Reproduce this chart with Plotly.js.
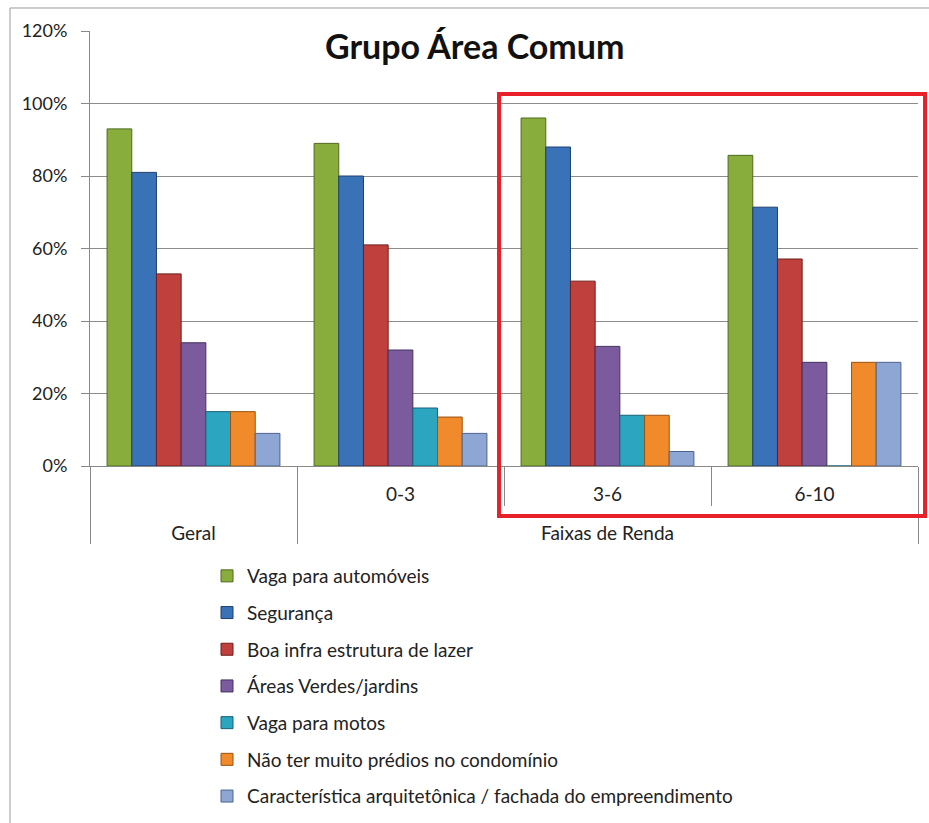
<!DOCTYPE html>
<html>
<head>
<meta charset="utf-8">
<script src="https://cdn.plot.ly/plotly-3.0.1.min.js"></script>
<style>html,body{margin:0;padding:0;background:#fff;}#chart{width:929px;height:823px;}</style>
</head>
<body>
<div id="chart"></div>
<script>
// Categories (two-level axis)
var groupLabels = ["Geral", "Faixas de Renda", "Faixas de Renda", "Faixas de Renda"];
var subLabels = [" ", "0-3", "3-6", "6-10"];

// Series names
var seriesNames = [
  "Vaga para automóveis",
  "Segurança",
  "Boa infra estrutura de lazer",
  "Áreas Verdes/jardins",
  "Vaga para motos",
  "Não ter muito prédios no condomínio",
  "Característica arquitetônica / fachada do empreendimento"
];

// Series values (fractions), order: Geral, 0-3, 3-6, 6-10
var vagaAutomoveis = [0.93, 0.89, 0.96, 0.857];
var seguranca = [0.81, 0.80, 0.88, 0.714];
var infraLazer = [0.53, 0.61, 0.51, 0.571];
var areasVerdes = [0.34, 0.32, 0.33, 0.286];
var vagaMotos = [0.15, 0.16, 0.14, 0];
var poucosPredios = [0.15, 0.135, 0.14, 0.286];
var arquitetura = [0.09, 0.09, 0.04, 0.286];

var seriesValues = [vagaAutomoveis, seguranca, infraLazer, areasVerdes, vagaMotos, poucosPredios, arquitetura];
var seriesColors = ["#88AD3C", "#3A72B8", "#C0403D", "#7C5A9E", "#2BA5C0", "#F08A2A", "#8DA6D4"];
var seriesEdges = ["#4E6A1E", "#1F3F6E", "#6E1E1C", "#44305E", "#17617A", "#9A5210", "#4E6490"];

var yTicks = [0, 0.2, 0.4, 0.6, 0.8, 1.0, 1.2];

// group labels are pushed one line lower so they sit well below the sub-labels
var groupAxisLabels = groupLabels.map(function (g) { return "<br>" + g; });

var traces = seriesNames.map(function (name, i) {
  return {
    type: "bar",
    name: name,
    x: [groupAxisLabels, subLabels],
    y: seriesValues[i],
    legendgroup: "g" + i,
    marker: {color: seriesColors[i], line: {color: seriesEdges[i], width: 1}},
    hoverinfo: "y+name"
  };
});

var font = "Lato, 'Open Sans', 'Liberation Sans', sans-serif";

var layout = {
  width: 929,
  height: 823,
  paper_bgcolor: "#fff",
  plot_bgcolor: "#fff",
  margin: {l: 90, r: 11, t: 31, b: 357, autoexpand: false},
  barmode: "group",
  bargap: 0.165,
  bargroupgap: 0,
  font: {family: font, size: 14, color: "#222"},
  title: {
    text: "<b>Grupo Área Comum</b>",
    font: {family: font, size: 34, color: "#111"},
    x: 0.511, xref: "container", xanchor: "center",
    y: 1 - 47 / 823, yref: "container", yanchor: "middle"
  },
  xaxis: {
    type: "multicategory",
    automargin: false,
    showgrid: false,
    showline: true,
    linecolor: "#888",
    linewidth: 1,
    ticks: "outside",
    ticklen: 39,
    tickcolor: "#888",
    showdividers: true,
    dividercolor: "#888",
    dividerwidth: 1,
    ticklabelstandoff: 11,
    tickfont: {family: font, size: 19, color: "#222"}
  },
  yaxis: {
    automargin: false,
    range: [0, 1.2],
    tickvals: yTicks,
    tickformat: ".0%",
    showgrid: true,
    gridcolor: "#8c8c8c",
    gridwidth: 1,
    showline: true,
    linecolor: "#888",
    ticks: "outside",
    ticklen: 8,
    tickcolor: "#888",
    zeroline: false,
    tickfont: {family: font, size: 18, color: "#222"},
    ticklabelstandoff: 10
  },
  showlegend: true,
  legend: {
    orientation: "v",
    xanchor: "left",
    yanchor: "top",
    traceorder: "grouped",
    tracegroupgap: 9,
    font: {family: font, size: 19, color: "#222"},
    bgcolor: "rgba(0,0,0,0)",
    itemwidth: 30
  },
  shapes: [
    {type: "rect", xref: "paper", yref: "paper", x0: -0.0966, x1: 1.05, y0: -0.9, y1: 1.0529,
     line: {color: "#9a9a9a", width: 1}, fillcolor: "rgba(0,0,0,0)", layer: "below"},
    {type: "rect", xref: "paper", yref: "paper", x0: 0.494, x1: 1.0085, y0: -0.115, y1: 0.855,
     line: {color: "#E8202A", width: 4}, fillcolor: "rgba(0,0,0,0)"}
  ]
};

// legend coordinates are relative to the plot area (paper)
layout.legend.x = (207 - 90) / 828;
layout.legend.y = (466 - 557) / 435;

Plotly.newPlot("chart", traces, layout, {displayModeBar: false, staticPlot: true});
</script>
</body>
</html>
